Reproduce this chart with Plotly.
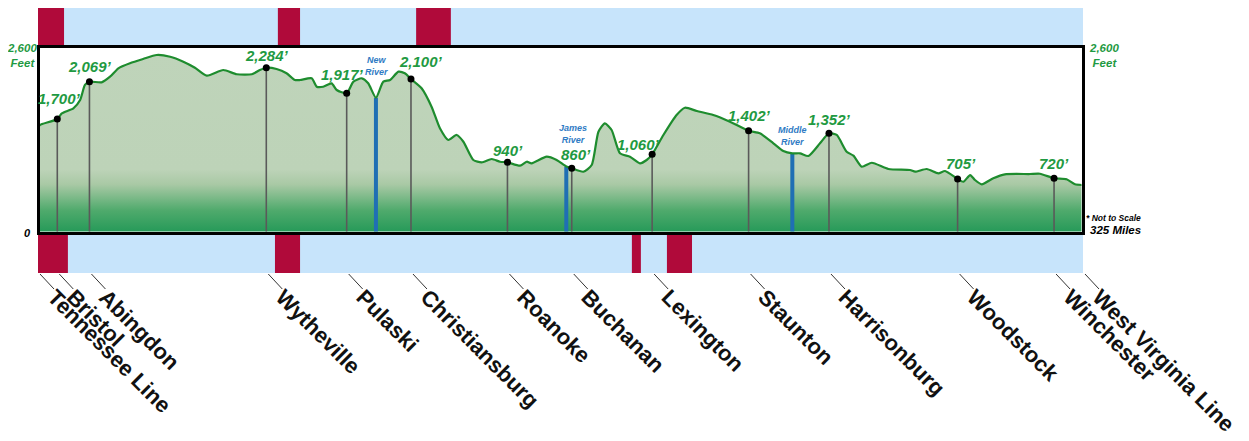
import plotly.graph_objects as go

# ---------------- data ----------------
profile_mile = [0, 0.6, 6.0, 7.4, 11.0, 13.1, 14.6, 16.0, 19.8, 22.4, 25.0, 28.6, 32.7, 36.9, 41.1,
                45.2, 48.8, 52.5, 57.6, 61.8, 66.5, 69.0, 71.0, 74.2, 77.3, 79.9, 81.5, 85.1, 86.7,
                88.7, 91.3, 92.9, 96.0, 98.1, 100.7, 102.7, 105.1, 107.4, 109.5, 112.1, 114.1, 116.0,
                119.3, 122.4, 125.0, 127.6, 130.2, 132.3, 135.4, 138.0, 141.1, 143.7, 146.0, 149.9,
                152.0, 153.5, 158.2, 161.3, 164.3, 166.0, 169.6, 172.2, 174.3, 176.3, 178.4, 181.0,
                184.1, 187.2, 189.3, 191.0, 194.5, 198.6, 201.2, 204.9, 210.0, 215.2, 221.0, 224.5,
                228.7, 231.8, 234.6, 237.0, 239.6, 243.2, 246.0, 248.4, 251.5, 253.6, 256.2, 259.3,
                264.5, 271.2, 272.8, 276.4, 280.0, 282.1, 286.0, 287.8, 289.9, 291.4, 293.5, 297.1,
                300.7, 308.5, 311.6, 316.0, 319.9, 322.5, 325.0]
profile_elev = [1474, 1502, 1585, 1664, 1734, 1849, 2058, 2104, 2095, 2173, 2290, 2360, 2419, 2475, 2451,
                2382, 2298, 2187, 2266, 2207, 2207, 2266, 2298, 2280, 2221, 2127, 2127, 2151, 2034,
                2034, 2081, 1988, 1942, 2104, 2151, 2081, 1881, 2104, 2127, 2243, 2220, 2141,
                2012, 1756, 1456, 1293, 1363, 1269, 1015, 983, 1029, 991, 983, 936,
                991, 969, 1061, 1015, 925, 900, 852, 945, 1408, 1525, 1432, 1108,
                1061, 969, 1015, 1094, 1363, 1641, 1742, 1696, 1641, 1548, 1422, 1386,
                1247, 1140, 1108, 1108, 1071, 1247, 1386, 1363, 1130, 1075, 922, 977,
                890, 876, 852, 890, 830, 862, 751, 713, 806, 737, 677, 761,
                816, 820, 824, 761, 747, 677, 667]

cities = ["Tennessee Line", "Bristol", "Abingdon", "Wytheville", "Pulaski", "Christiansburg",
          "Roanoke", "Buchanan", "Lexington", "Staunton", "Harrisonburg", "Woodstock",
          "Winchester", "West Virginia Line"]
city_mile = [0, 6, 16, 71, 96, 116, 146, 166, 191, 221, 246, 286, 316, 325]

# elevation markers (towns)
marker_mile = [6, 16, 71, 96, 116, 146, 166, 191, 221, 246, 286, 316]
marker_elev = [1585, 2104, 2298, 1942, 2141, 983, 900, 1094, 1422, 1386, 751, 761]
marker_text = ["1,700’", "2,069’", "2,284’", "1,917’", "2,100’", "940’", "860’",
               "1,060’", "1,402’", "1,352’", "705’", "720’"]

rivers = ["New<br>River", "James<br>River", "Middle<br>River"]
river_mile = [105.1, 164.3, 234.6]
river_elev = [1881, 925, 1108]

# coloured bands (start mile, end mile)
top_band_blocks = [(0, 8.1), (74.6, 81.5), (117.6, 128.4)]
bottom_band_blocks = [(0, 9.3), (73.7, 81.5), (184.7, 187.5), (195.6, 203.4)]

TOTAL_MILES = 325
Y_MAX = 2600

# ---------------- layout geometry (pixels of the 1249x441 window) ----------------
W, H = 1249, 441
OFF = 8                              # page body margin
FW, FH = W - OFF, H - OFF            # figure size
PX0, PX1 = 38, 1083                  # mile 0 / mile 325
PY0, PY1 = 233, 46                   # 0 ft / 2600 ft
LW = 3                               # frame width
PPM = (PX1 - PX0) / TOTAL_MILES
FPP = Y_MAX / (PY0 - PY1)

def clamp(v):
    return max(0.0, min(1.0, v))

def fx(p):
    return clamp((p - OFF) / FW)

def fy(p):
    return clamp(1 - (p - OFF) / FH)

# inset domain so frame lines sit on the reference edges
dx0, dx1 = PX0 + LW / 2, PX1 - LW / 2
dy_top, dy_bot = PY1 + LW / 2, PY0 - LW / 2
xr = [(dx0 - PX0) / PPM, (dx1 - PX0) / PPM]
yr = [(PY0 - dy_bot) * FPP, (PY0 - dy_top) * FPP]
x2_right = W                          # right edge of figure in window px

GREEN_LINE = "#1e8c2e"
GREEN_TEXT = "#1f9a42"
BLUE_RIVER = "#1f6fb4"
BLUE_TEXT = "#2f7bc4"
CRIMSON = "#b00a3a"
BAND_BLUE = "#c7e4fb"
FONT = "Liberation Sans, Arial, sans-serif"

fig = go.Figure()

# profile fill
fig.add_trace(go.Scatter(
    x=profile_mile, y=profile_elev, mode="lines", fill="tozeroy",
    line=dict(color="rgba(0,0,0,0)", width=0, shape="spline", smoothing=0.6),
    fillgradient=dict(type="vertical", start=0, stop=Y_MAX,
                      colorscale=[[0, "#249958"], [0.12, "#4faa6c"], [0.26, "#a9c9a5"],
                                  [0.34, "#bdd3b8"], [1, "#bfd4ba"]]),
    hoverinfo="skip", showlegend=False))

# grey drop lines for towns
gx, gy = [], []
for m, e in zip(marker_mile, marker_elev):
    gx += [m, m, None]
    gy += [0, e, None]
fig.add_trace(go.Scatter(x=gx, y=gy, mode="lines", line=dict(color="#5a5a5a", width=1.6),
                         hoverinfo="skip", showlegend=False))

# river bars
rx, ry = [], []
for m, e in zip(river_mile, river_elev):
    rx += [m, m, None]
    ry += [0, e, None]
fig.add_trace(go.Scatter(x=rx, y=ry, mode="lines", line=dict(color=BLUE_RIVER, width=4),
                         hoverinfo="skip", showlegend=False))

# profile line
fig.add_trace(go.Scatter(
    x=profile_mile, y=profile_elev, mode="lines",
    line=dict(color=GREEN_LINE, width=2.2, shape="spline", smoothing=0.6),
    hoverinfo="skip", showlegend=False))

# markers
fig.add_trace(go.Scatter(x=marker_mile, y=marker_elev, mode="markers",
                         marker=dict(color="black", size=7), hoverinfo="skip", showlegend=False,
                         cliponaxis=False))

# elevation labels (style offsets in px)
label_shift = [(2, 10), (1, 5), (1, 2), (-4, 8), (10, 7), (1, 1), (4, 3), (-14, -1),
               (1, 5), (1, 3), (3, 5), (0, 4)]
for m, e, t, (sx, sy) in zip(marker_mile, marker_elev, marker_text, label_shift):
    fig.add_annotation(x=m, y=e, xref="x", yref="y", text=t, showarrow=False,
                       xanchor="center", yanchor="bottom", xshift=sx, yshift=sy,
                       font=dict(family=FONT, size=15, color=GREEN_TEXT, weight="bold",
                                 style="italic"))

# river labels
river_shift = [(1, 19), (7, 19), (0, 4)]
for m, e, t, (sx, sy) in zip(river_mile, river_elev, rivers, river_shift):
    fig.add_annotation(x=m, y=e, xref="x", yref="y", text=t, showarrow=False,
                       xanchor="center", yanchor="bottom", xshift=sx, yshift=sy,
                       font=dict(family=FONT, size=9, color=BLUE_TEXT, weight="bold",
                                 style="italic"))

# bands
def band(blocks, yaxis):
    fig.add_trace(go.Bar(orientation="h", y=[0.5], x=[TOTAL_MILES], base=[0], width=1,
                         marker=dict(color=BAND_BLUE, line=dict(width=0)),
                         xaxis="x3", yaxis=yaxis, hoverinfo="skip", showlegend=False))
    fig.add_trace(go.Bar(orientation="h", y=[0.5] * len(blocks),
                         x=[b - a for a, b in blocks], base=[a for a, b in blocks], width=1,
                         marker=dict(color=CRIMSON, line=dict(width=0)),
                         xaxis="x3", yaxis=yaxis, hoverinfo="skip", showlegend=False))

band(top_band_blocks, "y2")
band(bottom_band_blocks, "y3")

# leader lines to city names
LEAD_X0, LEAD_X1 = 2, 16     # px offsets
lx, ly = [], []
for m in city_mile:
    lx += [m + LEAD_X0 / PPM, m + LEAD_X1 / PPM, None]
    ly += [1, 0, None]
fig.add_trace(go.Scatter(x=lx, y=ly, mode="lines", line=dict(color="#333333", width=1),
                         xaxis="x2", yaxis="y4", hoverinfo="skip", showlegend=False))

# text annotations for axis
def txt(text, x, y, size, color, xanchor="center", yanchor="middle"):
    fig.add_annotation(x=fx(x), y=fy(y), xref="paper", yref="paper", text=text,
                       showarrow=False, xanchor=xanchor, yanchor=yanchor,
                       font=dict(family=FONT, size=size, color=color, weight="bold",
                                 style="italic"))

txt("2,600<br>Feet", 22, 55, 11.5, GREEN_TEXT)
txt("2,600<br>Feet", 1104, 56, 11.5, GREEN_TEXT)
txt("0", 27.5, 233, 11, "black")
txt("* Not to Scale", 1084, 218, 8.5, "black", xanchor="left")
txt("325 Miles", 1088, 230, 11.5, "black", xanchor="left")

axis_off = dict(showgrid=False, zeroline=False, showticklabels=False, ticks="", automargin=False)
fig.update_layout(
    width=FW, height=FH, margin=dict(l=0, r=0, t=0, b=0, autoexpand=False),
    paper_bgcolor="white", plot_bgcolor="rgba(0,0,0,0)",
    barmode="overlay", showlegend=False,
    xaxis=dict(domain=[fx(dx0), fx(dx1)], range=xr, showline=True, mirror=True,
               linewidth=LW, linecolor="black", **axis_off),
    yaxis=dict(domain=[fy(dy_bot), fy(dy_top)], range=yr, showline=True, mirror=True,
               linewidth=LW, linecolor="black", **axis_off),
    xaxis3=dict(domain=[fx(PX0), fx(PX1)], range=[0, TOTAL_MILES], anchor="y2", **axis_off),
    yaxis2=dict(domain=[fy(45), fy(6)], range=[0, 1], anchor="x3", **axis_off),
    yaxis3=dict(domain=[fy(273), fy(235)], range=[0, 1], anchor="x3", **axis_off),
    xaxis2=dict(domain=[fx(PX0), 1.0], range=[0, (x2_right - PX0) / PPM], anchor="y4",
                showgrid=False, zeroline=False, ticks="", showline=False, automargin=False,
                tickmode="array", tickvals=city_mile, ticktext=cities, tickangle=45,
                ticklabelshift=16, ticklabelstandoff=-10, ticklabeloverflow="allow",
                tickfont=dict(family=FONT, size=22, color="#111111", weight="bold")),
    yaxis4=dict(domain=[fy(289), fy(274)], range=[0, 1], anchor="x2", **axis_off),
)

fig.write_html("out.html")
